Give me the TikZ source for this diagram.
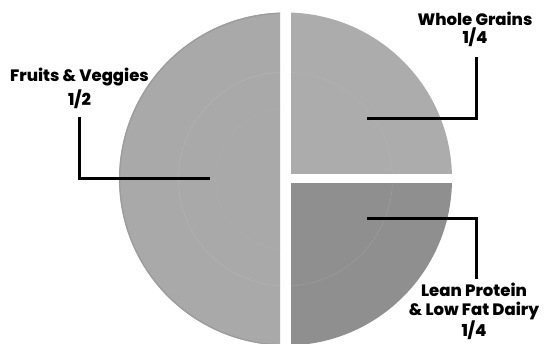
\documentclass[tikz,border=0pt]{standalone}
\usepackage{fontspec}
\setmainfont{Poppins}[UprightFont=* ExtraBold, BoldFont=* ExtraBold]
\begin{document}
\begin{tikzpicture}[x=1pt,y=-1pt,
  lead/.style={line width=3pt, black},
  lbl/.style={align=center, font=\fontsize{16.5}{19}\selectfont, inner sep=0pt, text=black},
]
\definecolor{plateL}{HTML}{A9A9A9}
\definecolor{plateTR}{HTML}{ACACAC}
\definecolor{plateBR}{HTML}{8F8F8F}
\definecolor{rimline}{HTML}{B0B0B0}
\definecolor{rimdark}{HTML}{9C9C9C}
\useasboundingbox (0,0) rectangle (549,343);
\coordinate (c) at (285.5,179);
% left half
\begin{scope}
  \clip (0,0) rectangle (280,343);
  \fill[plateL] (c) circle (166.5);
  \draw[rimdark, line width=1.2pt] (c) circle (165.8);
  \draw[rimline, line width=0.8pt] (c) circle (107);
  \draw[rimline!50!plateL, line width=0.6pt] (c) circle (70);
\end{scope}
% top right quarter
\begin{scope}
  \clip (291,0) rectangle (549,173);
  \fill[plateTR] (c) circle (166.5);
  \draw[rimline, line width=0.8pt] (c) circle (107);
\end{scope}
% bottom right quarter
\begin{scope}
  \clip (291,183) rectangle (549,343);
  \fill[plateBR] (c) circle (166.5);
  \draw[plateBR!90!white, line width=0.6pt] (c) circle (107);
\end{scope}
% labels
\node[lbl, anchor=north] (fv) at (79.5,68) {Fruits \& Veggies\\[3pt]1/2};
\node[lbl, anchor=north] (wg) at (475,12) {Whole Grains\\[-1pt]1/4};
\node[lbl, anchor=south] (lp) at (474,340) {Lean Protein\\\& Low Fat Dairy\\1/4};
% leaders
\coordinate (fvEnd) at (210,178);
\coordinate (wgEnd) at (367,118);
\coordinate (lpEnd) at (367,218);
\draw[lead] (79,116.5) |- (fvEnd);
\draw[lead] (476,57) |- (wgEnd);
\draw[lead] (476,278.5) |- (lpEnd);
\end{tikzpicture}
\end{document}
